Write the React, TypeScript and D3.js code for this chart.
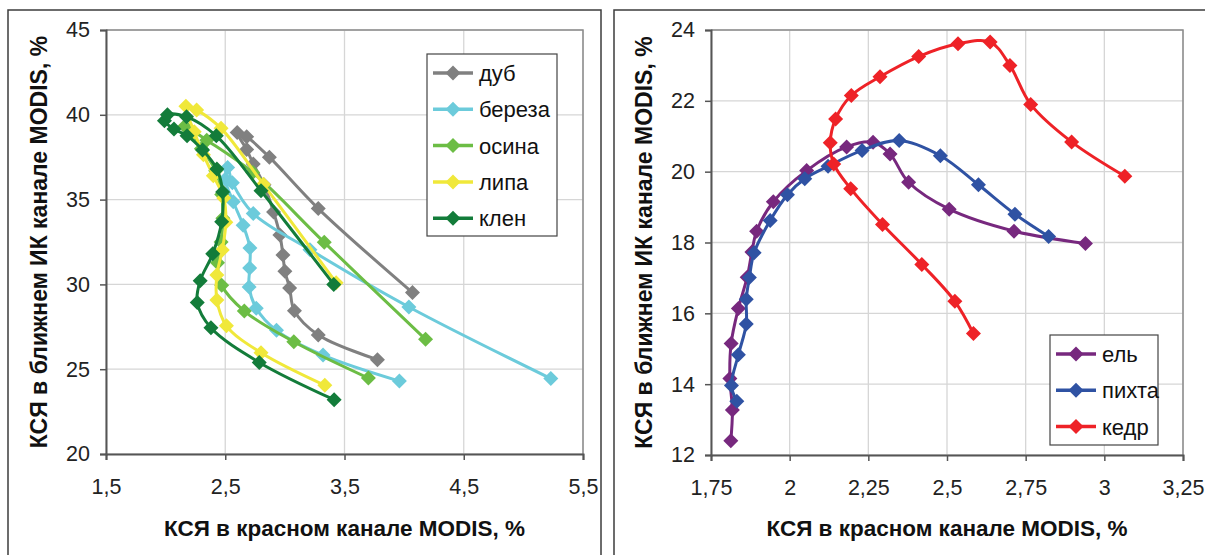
import React from "react";
import * as d3 from "d3";

// left panel: deciduous species
const leftNames = ["дуб", "береза", "осина", "липа", "клен"];
const leftColors = ["#808080", "#6ccbdb", "#6cbd45", "#f0e83a", "#137c3a"];

const dub = [
  [3.776, 25.56], [3.28, 27.02], [3.08, 28.44], [3.04, 29.79], [3.0, 30.77], [2.984, 31.73],
  [2.958, 32.92], [2.905, 34.27], [2.825, 35.87], [2.735, 37.1], [2.68, 37.95], [2.6, 38.95],
  [2.68, 38.7], [2.87, 37.5], [3.28, 34.47], [4.07, 29.52],
];
const bereza = [
  [3.96, 24.3], [3.32, 25.83], [2.93, 27.29], [2.76, 28.6], [2.7, 29.85], [2.705, 30.97],
  [2.707, 32.15], [2.65, 33.49], [2.567, 34.87], [2.5, 36.2], [2.52, 36.9], [2.56, 36.0],
  [2.735, 34.18], [3.21, 32.05], [4.04, 28.67], [5.23, 24.45],
];
const osina = [
  [3.7, 24.48], [3.075, 26.62], [2.66, 28.43], [2.47, 29.95], [2.435, 31.27], [2.465, 32.5],
  [2.48, 33.9], [2.47, 35.3], [2.42, 36.7], [2.3, 38.0], [2.16, 39.33], [2.345, 38.5],
  [2.73, 36.6], [3.33, 32.48], [4.18, 26.76],
];
const lipa = [
  [3.335, 24.05], [2.8, 25.97], [2.51, 27.56], [2.43, 29.08], [2.43, 30.55], [2.475, 32.03],
  [2.505, 33.67], [2.487, 35.1], [2.4, 36.4], [2.317, 37.65], [2.24, 39.0], [2.17, 40.5],
  [2.26, 40.28], [2.465, 39.2], [2.82, 35.9], [3.43, 30.1],
];
const klen = [
  [3.413, 23.2], [2.785, 25.4], [2.38, 27.44], [2.265, 28.93], [2.29, 30.22], [2.395, 31.8],
  [2.47, 33.69], [2.478, 35.45], [2.43, 36.8], [2.31, 37.92], [2.18, 38.76], [2.07, 39.16],
  [1.99, 39.65], [2.015, 40.0], [2.175, 39.88], [2.425, 38.76], [2.8, 35.52], [3.41, 30.0],
];
const leftSeries = [dub, bereza, osina, lipa, klen];
const leftXTicks = [1.5, 2.5, 3.5, 4.5, 5.5];
const leftYTicks = [20, 25, 30, 35, 40, 45];

// right panel: conifers
const rightNames = ["ель", "пихта", "кедр"];
const rightColors = ["#77287e", "#2f52a3", "#ee2227"];

const el = [
  [1.813, 12.4], [1.818, 13.27], [1.81, 14.16], [1.814, 15.15], [1.837, 16.14], [1.865, 17.02],
  [1.88, 17.73], [1.895, 18.32], [1.948, 19.15], [2.054, 20.03], [2.181, 20.7], [2.265, 20.83],
  [2.319, 20.5], [2.378, 19.7], [2.507, 18.94], [2.713, 18.32], [2.94, 17.97],
];
const pihta = [
  [1.832, 13.52], [1.815, 13.96], [1.837, 14.83], [1.862, 15.7], [1.862, 16.4], [1.872, 17.01],
  [1.887, 17.71], [1.938, 18.62], [1.993, 19.35], [2.048, 19.8], [2.122, 20.15], [2.23, 20.6],
  [2.348, 20.88], [2.479, 20.45], [2.6, 19.63], [2.716, 18.8], [2.823, 18.17],
];
const kedr = [
  [2.584, 15.43], [2.525, 16.34], [2.42, 17.38], [2.295, 18.51], [2.194, 19.52], [2.14, 20.22],
  [2.129, 20.82], [2.146, 21.49], [2.196, 22.15], [2.287, 22.68], [2.41, 23.25], [2.535, 23.61],
  [2.637, 23.66], [2.7, 23.0], [2.766, 21.9], [2.896, 20.84], [3.065, 19.87],
];
const rightSeries = [el, pihta, kedr];
const rightXTicks = [1.75, 2, 2.25, 2.5, 2.75, 3, 3.25];
const rightYTicks = [12, 14, 16, 18, 20, 22, 24];

const xTitle = "КСЯ в красном канале MODIS, %";
const yTitle = "КСЯ в ближнем ИК канале MODIS, %";

const FONT = "'Liberation Sans', Arial, sans-serif";
const fmt = (v: number) => String(v).replace(".", ",");
const diamond = (r: number) => `M0,${-r}L${r},0L0,${r}L${-r},0Z`;

function drawPanel(svg: any, cfg: any) {
  const { frame, plot, xDomain, yDomain, xTicks, yTicks, series, names, colors, legend } = cfg;
  const x = d3.scaleLinear().domain(xDomain).range([plot.left, plot.right]);
  const y = d3.scaleLinear().domain(yDomain).range([plot.bottom, plot.top]);

  svg.append("rect")
    .attr("x", frame.x).attr("y", frame.y).attr("width", frame.w).attr("height", frame.h)
    .attr("fill", "white").attr("stroke", "#3c3c3c").attr("stroke-width", 1.5);

  const g = svg.append("g");
  // grid
  g.selectAll(".vg").data(xTicks).join("line")
    .attr("x1", (d: number) => x(d)).attr("x2", (d: number) => x(d))
    .attr("y1", plot.top).attr("y2", plot.bottom)
    .attr("stroke", "#d6d6d6").attr("stroke-width", 1.3);
  g.selectAll(".hg").data(yTicks).join("line")
    .attr("x1", plot.left).attr("x2", plot.right)
    .attr("y1", (d: number) => y(d)).attr("y2", (d: number) => y(d))
    .attr("stroke", "#d6d6d6").attr("stroke-width", 1.3);
  // border top/right
  g.append("path")
    .attr("d", `M${plot.left},${plot.top}H${plot.right}V${plot.bottom}`)
    .attr("fill", "none").attr("stroke", "#8c8c8c").attr("stroke-width", 1.5);

  // axes
  const xAxis = d3.axisBottom(x).tickValues(xTicks).tickSize(6).tickPadding(10).tickFormat(fmt as any);
  const yAxis = d3.axisLeft(y).tickValues(yTicks).tickSize(6).tickPadding(10).tickFormat(fmt as any);
  const gx = g.append("g").attr("transform", `translate(0,${plot.bottom})`).call(xAxis);
  const gy = g.append("g").attr("transform", `translate(${plot.left},0)`).call(yAxis);
  [gx, gy].forEach((a: any) => {
    a.select(".domain").attr("stroke", "#555").attr("stroke-width", 2);
    a.selectAll(".tick line").attr("stroke", "#555").attr("stroke-width", 1.5);
    a.selectAll(".tick text").attr("font-family", FONT).attr("font-size", 21.5).attr("fill", "#222");
  });
  gx.selectAll(".tick text").attr("dy", "1.1em");

  // titles
  svg.append("text")
    .attr("x", (plot.left + plot.right) / 2).attr("y", 536)
    .attr("text-anchor", "middle").attr("font-family", FONT).attr("font-weight", "bold")
    .attr("font-size", 22.5).attr("fill", "#111").text(xTitle);
  svg.append("text")
    .attr("transform", `translate(${cfg.yTitleX},${(plot.top + plot.bottom) / 2}) rotate(-90)`)
    .attr("text-anchor", "middle").attr("font-family", FONT).attr("font-weight", "bold")
    .attr("font-size", 23).attr("fill", "#111").text(yTitle);

  // series
  const line = d3.line<number[]>()
    .x((d) => x(d[0])).y((d) => y(d[1]))
    .curve(d3.curveCatmullRom.alpha(0.5));
  series.forEach((s: number[][], i: number) => {
    const sg = g.append("g");
    sg.append("path").attr("d", line(s)).attr("fill", "none")
      .attr("stroke", colors[i]).attr("stroke-width", 3);
    sg.selectAll("path.m").data(s).join("path").attr("class", "m")
      .attr("d", diamond(7.5))
      .attr("transform", (d: number[]) => `translate(${x(d[0])},${y(d[1])})`)
      .attr("fill", colors[i]);
  });

  // legend
  const lg = svg.append("g");
  lg.append("rect").attr("x", legend.x).attr("y", legend.y).attr("width", legend.w).attr("height", legend.h)
    .attr("fill", "white").attr("stroke", "#444").attr("stroke-width", 1.2);
  names.forEach((n: string, i: number) => {
    const cy = legend.y + legend.first + i * legend.step;
    const lx = legend.x + 6;
    lg.append("line").attr("x1", lx).attr("x2", lx + 40).attr("y1", cy).attr("y2", cy)
      .attr("stroke", colors[i]).attr("stroke-width", 3.5);
    lg.append("path").attr("d", diamond(7.5)).attr("transform", `translate(${lx + 20},${cy})`)
      .attr("fill", colors[i]);
    lg.append("text").attr("x", lx + 46).attr("y", cy).attr("dy", "0.36em")
      .attr("font-family", FONT).attr("font-size", 22).attr("fill", "#111").text(n);
  });
}

export default function App() {
  const ref = React.useRef<SVGSVGElement | null>(null);

  React.useEffect(() => {
    const svg = d3.select(ref.current);
    svg.selectAll("*").remove();
    drawPanel(svg, {
      frame: { x: 8, y: 10, w: 593, h: 560 },
      plot: { left: 106, right: 583, top: 30, bottom: 454 },
      xDomain: [1.5, 5.5], yDomain: [20, 45],
      xTicks: leftXTicks, yTicks: leftYTicks,
      series: leftSeries, names: leftNames, colors: leftColors,
      legend: { x: 427, y: 54, w: 130, h: 182, first: 19, step: 36.3 },
      yTitleX: 47,
    });
    drawPanel(svg, {
      frame: { x: 614, y: 10, w: 620, h: 560 },
      plot: { left: 711, right: 1183, top: 30, bottom: 455 },
      xDomain: [1.75, 3.25], yDomain: [12, 24],
      xTicks: rightXTicks, yTicks: rightYTicks,
      series: rightSeries, names: rightNames, colors: rightColors,
      legend: { x: 1050, y: 335, w: 108, h: 110, first: 19, step: 36.3 },
      yTitleX: 652,
    });
  }, []);

  return (
    <div style={{ position: "absolute", left: 0, top: 0, width: 1205, height: 555, background: "white", overflow: "hidden" }}>
      <svg ref={ref} width={1205} height={555} />
    </div>
  );
}
